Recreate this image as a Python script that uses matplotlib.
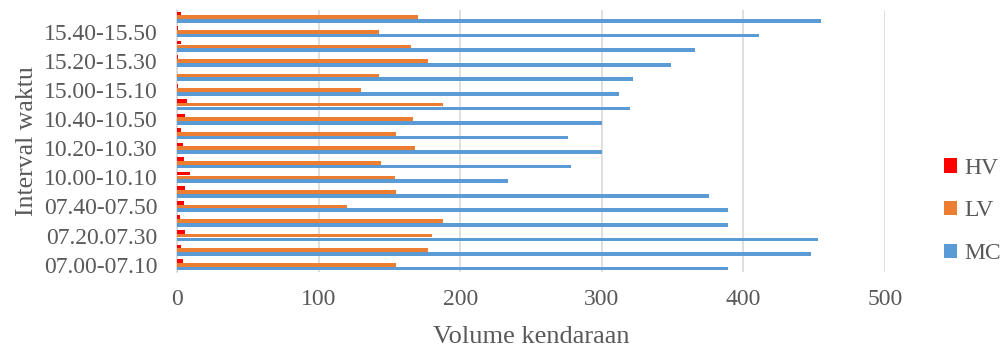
import matplotlib
matplotlib.use("Agg")
import matplotlib.pyplot as plt
import numpy as np

categories = ["07.00-07.10", "07.10-07.20", "07.20.07.30", "07.30-07.40", "07.40-07.50", "07.50-08.00",
              "10.00-10.10", "10.10-10.20", "10.20-10.30", "10.30-10.40", "10.40-10.50", "10.50-11.00",
              "15.00-15.10", "15.10-15.20", "15.20-15.30", "15.30-15.40", "15.40-15.50", "15.50-16.00"]
mc = [389, 448, 453, 389, 389, 376, 234, 278, 300, 276, 300, 320, 312, 322, 349, 366, 411, 455]
lv = [155, 177, 180, 188, 120, 155, 154, 144, 168, 155, 167, 188, 130, 143, 177, 165, 143, 170]
hv = [4, 3, 6, 2, 5, 6, 9, 5, 4, 3, 6, 7, 1, 0, 0.5, 3, 1, 3]
xticks = [0, 100, 200, 300, 400, 500]

plt.rcParams['font.family'] = ['Liberation Serif', 'DejaVu Serif']
fig = plt.figure(figsize=(10.03, 3.56), dpi=100)
ax = fig.add_axes([177/1003, 1-272/356, (885-177)/1003, (272-10)/356])

y = np.arange(len(categories))
h = 0.25
off = 0.26
ax.barh(y - off, mc, height=h, color='#5B9BD5', label='MC', zorder=3)
ax.barh(y, lv, height=h, color='#ED7D31', label='LV', zorder=3)
ax.barh(y + off, hv, height=h, color='#FF0000', label='HV', zorder=3)

ax.set_xlim(0, 500)
ax.set_ylim(-0.5, len(categories) - 0.5)
ax.set_xticks(xticks)
ax.set_xticklabels([str(t) for t in xticks])
ax.set_yticks(y[::2])
ax.set_yticklabels(categories[::2])
ax.tick_params(axis='both', length=0, colors='#595959', labelsize=17)
ax.tick_params(axis='x', pad=12)
ax.tick_params(axis='y', pad=14)
ax.grid(axis='x', color='#D9D9D9', linewidth=1.2, zorder=0)
for s in ['top', 'right', 'bottom']:
    ax.spines[s].set_visible(False)
ax.spines['left'].set_color('#D9D9D9')
ax.spines['left'].set_linewidth(1.2)

ax.set_xlabel('Volume kendaraan', fontsize=19, color='#595959', labelpad=12)
ax.set_ylabel('Interval waktu', fontsize=18.5, color='#595959', labelpad=4)

handles, labels = ax.get_legend_handles_labels()
order = [2, 1, 0]
leg = fig.legend([handles[i] for i in order], [labels[i] for i in order],
                 loc='center left', bbox_to_anchor=(944/1003, 1-211/356), frameon=False,
                 fontsize=17, handlelength=0.55, handleheight=0.55, labelspacing=0.92,
                 handletextpad=0.3, borderpad=0, borderaxespad=0, labelcolor='#595959')

fig.savefig('out.png', dpi=100)
